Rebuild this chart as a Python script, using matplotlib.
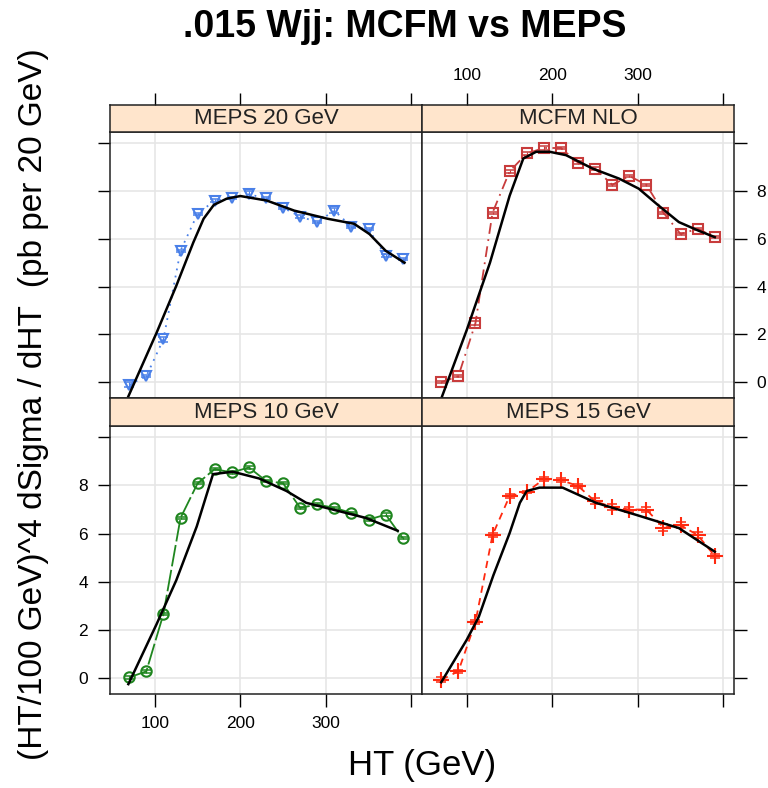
import numpy as np
import matplotlib.pyplot as plt

plt.rcParams['font.family'] = ['Liberation Sans', 'DejaVu Sans']

# bin centres (20 GeV bins)
ht = [70, 90, 110, 130, 150, 170, 190, 210, 230, 250, 270, 290, 310, 330, 350, 370, 390]

meps20 = [-0.1, 0.25, 1.8, 5.5, 7.05, 7.6, 7.7, 7.86, 7.7, 7.3, 6.93, 6.7, 7.18, 6.5, 6.4, 5.3, 5.15]
mcfm = [0.0, 0.25, 2.47, 7.09, 8.82, 9.57, 9.8, 9.8, 9.19, 8.94, 8.26, 8.63, 8.26, 7.09, 6.2, 6.42, 6.07]
meps10 = [0.03, 0.28, 2.66, 6.65, 8.09, 8.68, 8.54, 8.75, 8.19, 8.09, 7.07, 7.21, 7.07, 6.86, 6.58, 6.79, 5.81]
meps15 = [-0.07, 0.28, 2.32, 5.94, 7.56, 7.73, 8.26, 8.22, 7.98, 7.34, 7.11, 7.0, 7.0, 6.25, 6.35, 5.94, 5.07]

err20 = [0.12, 0.05, 0.1, 0.05, 0.05, 0.05, 0.05, 0.12, 0.05, 0.05, 0.05, 0.05, 0.1, 0.05, 0.05, 0.05, 0.05]
err_mcfm = [0.05, 0.05, 0.08, 0.05, 0.05, 0.05, 0.08, 0.05, 0.05, 0.05, 0.05, 0.05, 0.05, 0.05, 0.05, 0.05, 0.05]
err10 = [0.05, 0.05, 0.05, 0.05, 0.05, 0.05, 0.05, 0.05, 0.05, 0.05, 0.05, 0.05, 0.05, 0.05, 0.05, 0.05, 0.05]
err15 = [0.1, 0.05, 0.08, 0.1, 0.08, 0.05, 0.08, 0.08, 0.1, 0.12, 0.12, 0.12, 0.1, 0.15, 0.12, 0.12, 0.08]

# smooth (black) curves per panel
fit20_ht = [69, 102, 125, 145, 157, 169, 184, 200, 231, 263, 302, 333, 351, 370, 392]
fit20 = [-0.59, 2.07, 4.03, 5.85, 6.84, 7.42, 7.68, 7.79, 7.6, 7.18, 6.84, 6.63, 6.2, 5.5, 5.0]
fit_mcfm_ht = [71, 100, 127, 150, 166, 181, 197, 216, 247, 278, 301, 324, 348, 371, 390]
fit_mcfm = [-0.59, 2.2, 5.0, 7.8, 9.36, 9.64, 9.64, 9.5, 8.94, 8.52, 8.1, 7.4, 6.7, 6.34, 6.07]
fit10_ht = [69, 102, 125, 149, 160, 168, 191, 222, 254, 277, 308, 347, 384]
fit10 = [-0.25, 2.24, 4.06, 6.3, 7.56, 8.47, 8.57, 8.29, 7.77, 7.28, 7.0, 6.65, 6.12]
fit15_ht = [70, 100, 114, 131, 150, 162, 170, 185, 212, 251, 297, 348, 390]
fit15 = [-0.17, 1.6, 2.55, 4.27, 6.02, 7.28, 7.77, 7.91, 7.91, 7.28, 6.79, 6.23, 5.25]

panels = [
    dict(name="MEPS 20 GeV", y=meps20, err=err20, fx=fit20_ht, fy=fit20,
         color="#4a80e8", marker="v", ls=(0, (1, 3)), col=0, row=0),
    dict(name="MCFM NLO", y=mcfm, err=err_mcfm, fx=fit_mcfm_ht, fy=fit_mcfm,
         color="#c83c3c", marker="s", ls=(0, (6, 3, 1, 3)), col=1, row=0),
    dict(name="MEPS 10 GeV", y=meps10, err=err10, fx=fit10_ht, fy=fit10,
         color="#1f861f", marker="o", ls=(0, (12, 2)), col=0, row=1),
    dict(name="MEPS 15 GeV", y=meps15, err=err15, fx=fit15_ht, fy=fit15,
         color="#ff2a10", marker="+", ls=(0, (4, 3)), col=1, row=1),
]

W, H = 768, 788
cols = [(110, 422), (422, 734)]
rows = [(105, 131.5, 398), (398, 425.5, 694)]  # strip top, panel top, panel bottom


def box(x0, y0, x1, y1):
    return [x0 / W, 1 - y1 / H, (x1 - x0) / W, (y1 - y0) / H]


xlim = (47.5, 412.5)
ylim = (-0.66, 10.49)
xticks = [100, 200, 300, 400]
xlabels = ["100", "200", "300", ""]
yticks = [0, 2, 4, 6, 8, 10]
ylabels = ["0", "2", "4", "6", "8", ""]

fig = plt.figure(figsize=(7.68, 7.88), dpi=100)

for p in panels:
    x0, x1 = cols[p["col"]]
    st, pt, pb = rows[p["row"]]
    ax = fig.add_axes(box(x0, pt, x1, pb))
    sax = fig.add_axes(box(x0, st, x1, pt))

    ax.set_xlim(xlim)
    ax.set_ylim(ylim)
    ax.set_xticks(xticks)
    ax.set_xticklabels(xlabels)
    ax.set_yticks(yticks)
    ax.set_yticklabels(ylabels)
    ax.grid(True, color="#e6e6e6", lw=1.2)
    ax.set_axisbelow(True)
    for s in ax.spines.values():
        s.set_color("#222222")
        s.set_linewidth(1.1)

    left = p["col"] == 0
    bottom = p["row"] == 1
    ax.tick_params(direction="out", length=9, width=1, labelsize=12.5, pad=7,
                   left=left, labelleft=left and bottom,
                   right=not left, labelright=(not left) and (not bottom),
                   bottom=bottom, labelbottom=bottom and left,
                   top=False, labeltop=False)

    ax.errorbar(ht, p["y"], yerr=p["err"], fmt="none", ecolor=p["color"],
                elinewidth=0.8, capsize=3.5, capthick=1.1, zorder=3)
    ax.plot(ht, p["y"], color=p["color"], ls=p["ls"], lw=1.3,
            marker=p["marker"], ms=7.5 if p["marker"] != "+" else 11,
            mfc="none", mec=p["color"], mew=1.5, zorder=4)
    ax.plot(p["fx"], p["fy"], color="black", lw=1.8, zorder=5)

    # strip
    sax.set_facecolor("#ffe5cc")
    sax.set_xlim(xlim)
    sax.set_yticks([])
    for s in sax.spines.values():
        s.set_color("#222222")
        s.set_linewidth(1.1)
    sax.text(0.5, 0.48, p["name"], transform=sax.transAxes, ha="center", va="center",
             fontsize=16, color="#222222")
    if p["row"] == 0:
        sax.xaxis.tick_top()
        sax.set_xticks(xticks)
        sax.set_xticklabels(xlabels)
        sax.tick_params(direction="out", length=9, width=1, labelsize=12.5, pad=7,
                        bottom=False, labelbottom=False,
                        labeltop=not left)
    else:
        sax.set_xticks([])

fig.text(405 / W, 1 - 27 / H, ".015 Wjj: MCFM vs MEPS", ha="center", va="center",
         fontsize=27, fontweight="bold")
fig.text(422 / W, 1 - 765 / H, "HT (GeV)", ha="center", va="center", fontsize=25)
fig.text(34 / W, 1 - 404 / H, "(HT/100 GeV)^4 dSigma / dHT  (pb per 20 GeV)",
         rotation=90, ha="center", va="center", fontsize=24)

fig.savefig("out.png", dpi=100)
